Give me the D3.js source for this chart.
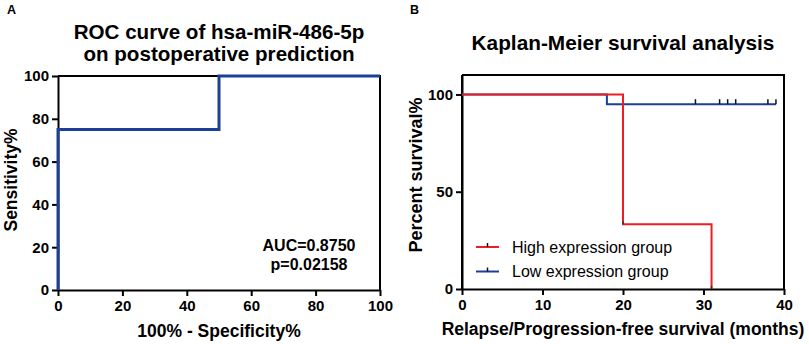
<!DOCTYPE html>
<html>
<head>
<meta charset="utf-8">
<script src="https://cdn.jsdelivr.net/npm/d3@7"></script>
<style>
  body { margin: 0; background: #fff; }
  svg { display: block; font-family: "Liberation Sans", Arial, sans-serif; }
  .axis text { font-size: 15px; font-weight: bold; fill: #000; }
  .axis path, .axis line { stroke: #000; stroke-width: 2px; }
</style>
</head>
<body>
<svg id="chart"></svg>
<script>
// ROC curve (100% - specificity, sensitivity)
const rocX = [0, 0, 50, 50, 100];
const rocY = [0, 75, 75, 100, 100];
const rocTicks = [0, 20, 40, 60, 80, 100];

// Kaplan-Meier steps (months, percent survival)
const highTime = [0, 20, 20, 31, 31];
const highSurv = [100, 100, 33.3, 33.3, 0];
const highCensor = [[20, 33.3], [31, 0]];
const lowTime = [0, 18, 18, 39];
const lowSurv = [100, 100, 95, 95];
const lowCensor = [29, 32, 33, 34, 38, 39];
const kmXTicks = [0, 10, 20, 30, 40];
const kmYTicks = [0, 50, 100];
const groups = ["High expression group", "Low expression group"];

const blue = "#1c3f97";
const red = "#ee1c25";

const svg = d3.select('#chart')
  .attr('width', 809)
  .attr('height', 344);

// ---------- Panel A ----------
const xA = d3.scaleLinear().domain([0, 100]).range([58, 380]);
const yA = d3.scaleLinear().domain([0, 100]).range([290, 76]);

const a = svg.append('g');

a.append('text').attr('x', 7).attr('y', 14)
  .attr('font-size', 12.5).attr('font-weight', 'bold').text('A');

a.append('text').attr('x', 219).attr('y', 39)
  .attr('text-anchor', 'middle').attr('font-size', 20.6).attr('font-weight', 'bold')
  .text('ROC curve of hsa-miR-486-5p');
a.append('text').attr('x', 219).attr('y', 61)
  .attr('text-anchor', 'middle').attr('font-size', 20.6).attr('font-weight', 'bold')
  .text('on postoperative prediction');

// frame top / right
a.append('path')
  .attr('d', `M${xA(0)},${yA(100)}H${xA(100)}V${yA(0)}`)
  .attr('fill', 'none').attr('stroke', '#000').attr('stroke-width', 2);

a.append('g').attr('class', 'axis')
  .attr('transform', `translate(0,${yA(0)})`)
  .call(d3.axisBottom(xA).tickValues(rocTicks).tickSize(6).tickPadding(4).tickSizeOuter(0));

a.append('g').attr('class', 'axis')
  .attr('transform', `translate(${xA(0)},0)`)
  .call(d3.axisLeft(yA).tickValues(rocTicks).tickSize(6).tickPadding(3).tickSizeOuter(0));

const rocLine = d3.line().x(i => xA(rocX[i])).y(i => yA(rocY[i]));
a.append('path')
  .attr('d', rocLine(d3.range(rocX.length)))
  .attr('fill', 'none').attr('stroke', blue).attr('stroke-width', 3);

a.append('text').attr('x', 219).attr('y', 337)
  .attr('text-anchor', 'middle').attr('font-size', 17.5).attr('font-weight', 'bold')
  .text('100% - Specificity%');

a.append('text')
  .attr('transform', `translate(17,180) rotate(-90)`)
  .attr('text-anchor', 'middle').attr('font-size', 17.5).attr('font-weight', 'bold')
  .text('Sensitivity%');

a.append('text').attr('x', 309).attr('y', 251)
  .attr('text-anchor', 'middle').attr('font-size', 16).attr('font-weight', 'bold')
  .text('AUC=0.8750');
a.append('text').attr('x', 309).attr('y', 270)
  .attr('text-anchor', 'middle').attr('font-size', 16).attr('font-weight', 'bold')
  .text('p=0.02158');

// ---------- Panel B ----------
const xB = d3.scaleLinear().domain([0, 40]).range([462, 784]);
const yB = d3.scaleLinear().domain([0, 110]).range([289, 75]);

const b = svg.append('g');

b.append('text').attr('x', 410).attr('y', 14)
  .attr('font-size', 12.5).attr('font-weight', 'bold').text('B');

b.append('text').attr('x', 623).attr('y', 50)
  .attr('text-anchor', 'middle').attr('font-size', 20.8).attr('font-weight', 'bold')
  .text('Kaplan-Meier survival analysis');

b.append('path')
  .attr('d', `M${xB(0)},${yB(110)}H${xB(40)}V${yB(0)}`)
  .attr('fill', 'none').attr('stroke', '#000').attr('stroke-width', 2);

b.append('g').attr('class', 'axis')
  .attr('transform', `translate(0,${yB(0)})`)
  .call(d3.axisBottom(xB).tickValues(kmXTicks).tickSize(6).tickPadding(4).tickSizeOuter(0));

b.append('g').attr('class', 'axis')
  .attr('transform', `translate(${xB(0)},0)`)
  .call(d3.axisLeft(yB).tickValues(kmYTicks).tickSize(6).tickPadding(3).tickSizeOuter(0));

// left axis should span to top of frame
b.append('line')
  .attr('x1', xB(0)).attr('x2', xB(0)).attr('y1', yB(0)).attr('y2', yB(110))
  .attr('stroke', '#000').attr('stroke-width', 2);

const lowLine = d3.line().x(i => xB(lowTime[i])).y(i => yB(lowSurv[i]));
b.append('path')
  .attr('d', lowLine(d3.range(lowTime.length)))
  .attr('fill', 'none').attr('stroke', blue).attr('stroke-width', 2);

b.selectAll('.lowc').data(lowCensor).enter().append('line')
  .attr('x1', d => xB(d)).attr('x2', d => xB(d))
  .attr('y1', yB(95)).attr('y2', yB(95) - 5)
  .attr('stroke', '#111').attr('stroke-width', 1.5);

const highLine = d3.line().x(i => xB(highTime[i])).y(i => yB(highSurv[i]));
b.append('path')
  .attr('d', highLine(d3.range(highTime.length)))
  .attr('fill', 'none').attr('stroke', red).attr('stroke-width', 2);

b.selectAll('.highc').data(highCensor).enter().append('line')
  .attr('x1', d => xB(d[0])).attr('x2', d => xB(d[0]))
  .attr('y1', d => yB(d[1])).attr('y2', d => yB(d[1]) - 3)
  .attr('stroke', '#333').attr('stroke-width', 1.5);

// legend
const legend = b.selectAll('.leg').data(groups).enter().append('g')
  .attr('transform', (d, i) => `translate(476,${247 + i * 24.5})`);
legend.append('line')
  .attr('x1', 0).attr('x2', 23)
  .attr('stroke', (d, i) => i === 0 ? red : blue).attr('stroke-width', 2);
legend.append('line')
  .attr('x1', 11.5).attr('x2', 11.5).attr('y1', 0).attr('y2', -4)
  .attr('stroke', '#111').attr('stroke-width', 1.5);
legend.append('text')
  .attr('x', 36).attr('y', 5.5)
  .attr('font-size', 16).text(d => d);

b.append('text').attr('x', 623).attr('y', 335)
  .attr('text-anchor', 'middle').attr('font-size', 17.5).attr('font-weight', 'bold')
  .text('Relapse/Progression-free survival (months)');

b.append('text')
  .attr('transform', `translate(422,175) rotate(-90)`)
  .attr('text-anchor', 'middle').attr('font-size', 18).attr('font-weight', 'bold')
  .text('Percent survival%');
</script>
</body>
</html>
